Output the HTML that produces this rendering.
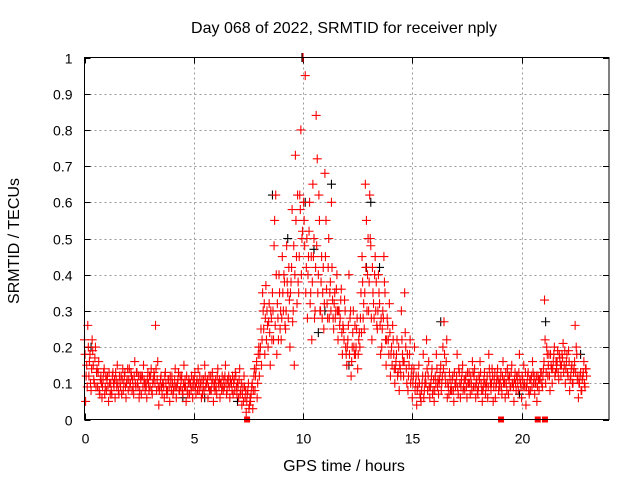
<!DOCTYPE html>
<html><head><meta charset="utf-8"><style>
html,body{margin:0;padding:0;background:#fff}
svg{display:block;font-family:"Liberation Sans",sans-serif}
</style></head><body>
<svg id="chart" width="640" height="480" viewBox="0 0 640 480">
<text x="344" y="33" font-size="16" text-anchor="middle" fill="#000">Day 068 of 2022, SRMTID for receiver nply</text>
<text x="344" y="471" font-size="16" text-anchor="middle" fill="#000">GPS time / hours</text>
<text x="19" y="241" font-size="16" text-anchor="middle" fill="#000" transform="rotate(-90 19 241)">SRMTID / TECUs</text>
<g id="grid"></g>
<g id="ticks"></g>
<g id="marks"></g>
<rect x="84.5" y="57.5" width="524.5" height="362" fill="none" stroke="#000" stroke-width="1"/>
</svg>
<script>
const xTicks=[0,5,10,15,20];
const yTicks=[0,0.1,0.2,0.3,0.4,0.5,0.6,0.7,0.8,0.9,1];
const yTickLabels=["0","0.1","0.2","0.3","0.4","0.5","0.6","0.7","0.8","0.9","1"];
const binTimes=[0.0,0.2,0.4,0.6,0.8,1.0,1.2,1.4,1.6,1.8,2.0,2.2,2.4,2.6,2.8,3.0,3.2,3.4,3.6,3.8,4.0,4.2,4.4,4.6,4.8,5.0,5.2,5.4,5.6,5.8,6.0,6.2,6.4,6.6,6.8,7.0,7.2,7.4,7.6,7.8,8.0,8.2,8.4,8.6,8.8,9.0,9.2,9.4,9.6,9.8,10.0,10.2,10.4,10.6,10.8,11.0,11.2,11.4,11.6,11.8,12.0,12.2,12.4,12.6,12.8,13.0,13.2,13.4,13.6,13.8,14.0,14.2,14.4,14.6,14.8,15.0,15.2,15.4,15.6,15.8,16.0,16.2,16.4,16.6,16.8,17.0,17.2,17.4,17.6,17.8,18.0,18.2,18.4,18.6,18.8,19.0,19.2,19.4,19.6,19.8,20.0,20.2,20.4,20.6,20.8,21.0,21.2,21.4,21.6,21.8,22.0,22.2,22.4,22.6,22.8];
const redValues=[
[.22,.05,.15,.26],[.12,.18,.08,.22],[.15,.10,.20,.13],[.09,.16,.07,.12],[.06,.11,.14,.09],
[.08,.12,.05,.10],[.10,.07,.13,.09],[.06,.11,.15,.08],[.12,.09,.07,.14],[.10,.13,.06,.11],
[.08,.14,.10,.12],[.11,.07,.16,.09],[.13,.09,.06,.12],[.07,.12,.15,.10],[.10,.06,.13,.08],
[.09,.14,.07,.11],[.12,.26,.08,.16],[.04,.09,.12,.07],[.10,.06,.13,.08],[.08,.11,.05,.10],
[.12,.07,.09,.14],[.06,.10,.13,.08],[.09,.12,.07,.15],[.11,.05,.08,.10],[.07,.10,.12,.06],
[.09,.13,.07,.11],[.14,.08,.10,.06],[.07,.11,.15,.09],[.10,.06,.12,.08],[.08,.13,.05,.10],
[.11,.07,.14,.09],[.06,.10,.12,.08],[.09,.15,.07,.11],[.12,.06,.10,.08],[.07,.11,.13,.09],
[.10,.06,.14,.08],[.04,.09,.12,.06],[.02,.07,.10,.04],[.05,.09,.03,.12],[.08,.14,.06,.18],
[.12,.20,.15,.35],[.25,.18,.37,.30],[.20,.32,.15,.28],[.35,.22,.55,.62],[.18,.28,.40,.25],
[.22,.45,.30,.38],[.25,.48,.35,.42],[.20,.38,.58,.30],[.15,.73,.45,.62],[.35,.62,.80,.50],
[1.0,.55,.95,.42],[.28,.45,.60,.35],[.22,.65,.50,.30],[.84,.72,.40,.55],[.30,.45,.35,.25],
[.68,.55,.32,.42],[.28,.38,.60,.33],[.25,.35,.30,.40],[.22,.30,.28,.36],[.18,.25,.33,.20],
[.15,.22,.40,.28],[.12,.20,.30,.18],[.18,.25,.14,.22],[.20,.35,.45,.28],[.25,.65,.55,.40],
[.30,.62,.48,.22],[.35,.28,.45,.38],[.25,.40,.32,.18],[.20,.30,.45,.35],[.15,.28,.22,.32],
[.12,.20,.26,.18],[.10,.16,.22,.13],[.08,.14,.30,.18],[.12,.35,.20,.10],[.08,.15,.22,.12],
[.06,.12,.20,.10],[.04,.09,.15,.07],[.05,.10,.18,.08],[.12,.22,.08,.16],[.06,.10,.14,.08],
[.05,.12,.18,.09],[.07,.11,.15,.10],[.20,.27,.12,.16],[.06,.09,.13,.08],[.08,.12,.05,.10],
[.10,.18,.07,.13],[.06,.11,.15,.09],[.08,.12,.06,.10],[.13,.07,.10,.16],[.09,.14,.06,.11],
[.07,.12,.16,.10],[.05,.09,.13,.07],[.10,.06,.18,.12],[.08,.14,.05,.11],[.06,.10,.14,.08],
[.09,.13,.07,.16],[.11,.06,.10,.14],[.07,.12,.09,.15],[.10,.05,.13,.08],[.12,.08,.18,.10],
[.06,.11,.15,.09],[.04,.10,.13,.07],[.08,.12,.16,.10],[.07,.10,.05,.12],[.08,.11,.13,.09],
[.14,.33,.10,.20],[.12,.18,.08,.15],[.10,.16,.20,.13],[.14,.19,.11,.17],[.12,.18,.21,.15],
[.10,.16,.13,.19],[.08,.12,.15,.10],[.14,.26,.20,.11],[.06,.10,.13,.08],[.12,.16,.09,.14]];
const redValues2=[
[.18,.12,.09,.20],[.16,.10,.14,.19],[.11,.17,.09,.14],[.13,.08,.11,.10],[.09,.13,.07,.12],
[.11,.09,.13,.07],[.08,.12,.10,.11],[.13,.09,.10,.07],[.10,.12,.11,.08],[.12,.09,.10,.14],
[.11,.09,.13,.08],[.09,.12,.10,.13],[.10,.12,.08,.11],[.12,.09,.11,.08],[.09,.11,.10,.12],
[.12,.08,.10,.13],[.10,.14,.11,.09],[.08,.11,.09,.10],[.09,.12,.10,.07],[.11,.09,.12,.08],
[.10,.08,.11,.09],[.09,.11,.08,.12],[.11,.08,.10,.09],[.09,.12,.07,.11],[.10,.08,.09,.11],
[.11,.09,.10,.08],[.10,.12,.09,.11],[.09,.08,.12,.10],[.11,.09,.08,.12],[.10,.11,.09,.08],
[.09,.12,.10,.11],[.10,.08,.09,.11],[.12,.10,.08,.10],[.09,.11,.10,.12],[.10,.08,.12,.07],
[.09,.11,.07,.10],[.07,.05,.09,.08],[.05,.08,.03,.06],[.07,.10,.08,.14],[.12,.16,.10,.20],
[.18,.25,.22,.30],[.32,.28,.22,.26],[.27,.24,.30,.22],[.30,.48,.26,.40],[.32,.22,.35,.30],
[.28,.35,.40,.26],[.30,.38,.28,.33],[.35,.42,.27,.48],[.40,.55,.32,.38],[.45,.58,.40,.52],
[.60,.48,.35,.50],[.40,.52,.32,.45],[.38,.45,.28,.42],[.48,.35,.62,.30],[.38,.28,.42,.32],
[.45,.36,.28,.50],[.35,.30,.42,.28],[.32,.28,.36,.30],[.30,.26,.33,.24],[.26,.22,.30,.18],
[.20,.26,.18,.30],[.16,.24,.20,.26],[.20,.28,.18,.24],[.28,.24,.38,.32],[.35,.42,.30,.50],
[.38,.50,.28,.42],[.32,.40,.30,.26],[.30,.35,.26,.28],[.25,.28,.38,.22],[.22,.26,.18,.24],
[.18,.15,.22,.14],[.14,.18,.12,.20],[.15,.12,.22,.16],[.16,.24,.14,.18],[.12,.18,.10,.14],
[.10,.14,.08,.12],[.08,.12,.10,.06],[.08,.12,.06,.10],[.10,.14,.12,.09],[.09,.12,.07,.11],
[.08,.10,.14,.11],[.10,.13,.08,.12],[.14,.18,.10,.22],[.10,.07,.11,.09],[.11,.08,.13,.09],
[.12,.09,.14,.10],[.09,.13,.08,.11],[.11,.09,.13,.10],[.10,.12,.08,.13],[.12,.09,.10,.08],
[.09,.11,.13,.08],[.08,.11,.10,.09],[.12,.09,.14,.10],[.10,.12,.09,.13],[.09,.12,.11,.10],
[.11,.09,.12,.10],[.10,.13,.08,.12],[.11,.09,.13,.10],[.09,.11,.10,.12],[.10,.13,.11,.09],
[.12,.09,.10,.13],[.09,.12,.08,.11],[.11,.09,.13,.12],[.10,.12,.09,.11],[.11,.13,.10,.12],
[.16,.22,.13,.18],[.15,.12,.18,.14],[.14,.18,.12,.16],[.16,.13,.18,.15],[.15,.17,.13,.19],
[.14,.18,.12,.16],[.11,.14,.10,.13],[.16,.13,.18,.12],[.10,.12,.08,.11],[.13,.10,.14,.12]];
const blackTimes=[9.95,10.1,8.6,11.3,12.1,7.0,5.5,21.1,13.1,10.5,9.3,12.9,11.0,13.5,0.3,4.5,16.3,19.9,22.7,10.7];
const blackValues=[1.0,0.6,0.62,0.65,0.15,0.05,0.06,0.27,0.6,0.47,0.5,0.42,0.3,0.42,0.2,0.06,0.27,0.07,0.18,0.24];
const gapTimes=[7.44,19.06,20.74,21.07];

const L=84.5,R=609,T=57.5,B=419.5,XMAX=24;
const NS="http://www.w3.org/2000/svg";
function xs(t){return L+(R-L)*t/XMAX;}
function ys(v){return B-(B-T)*v;}
function mk(tag,attrs,parent){const e=document.createElementNS(NS,tag);for(const k in attrs)e.setAttribute(k,attrs[k]);parent.appendChild(e);return e;}
const grid=document.getElementById('grid'),ticks=document.getElementById('ticks'),marks=document.getElementById('marks');
yTicks.forEach((v,i)=>{
  const y=Math.round(ys(v))+0.5;
  if(v>0&&v<1){const g=mk('line',{x1:L,x2:R,y1:y,y2:y,stroke:'#999','stroke-dasharray':'2,3'},grid);
  
  }
  mk('line',{x1:L,x2:L+6,y1:y,y2:y,stroke:'#000'},ticks);
  mk('line',{x1:R-6,x2:R,y1:y,y2:y,stroke:'#000'},ticks);
  const t=mk('text',{x:L-12,y:y+5,'font-size':'14','text-anchor':'end'},ticks);
  t.textContent=yTickLabels[i];
  
  
});
xTicks.forEach(v=>{
  const x=Math.round(xs(v))+0.5;
  if(v>0){const g=mk('line',{x1:x,x2:x,y1:T,y2:B,stroke:'#999','stroke-dasharray':'2,3'},grid);
  
  }
  mk('line',{x1:x,x2:x,y1:B,y2:B-6,stroke:'#000'},ticks);
  mk('line',{x1:x,x2:x,y1:T,y2:T+6,stroke:'#000'},ticks);
  const t=mk('text',{x:x,y:B+24,'font-size':'14','text-anchor':'middle'},ticks);
  t.textContent=String(v);
  
  
});
function plus(x,y,color,name){
  const p=mk('path',{d:`M${x-4.5},${y}H${x+4.5}M${x},${y-4.5}V${y+4.5}`,stroke:color,'stroke-width':'1.1',fill:'none'},marks);
  
  
}
blackTimes.forEach((t,i)=>plus(xs(t),ys(blackValues[i]),'#000','black-point'));
const offs=[0,0.05,0.1,0.15];
const offs2=[0.025,0.075,0.125,0.175];
binTimes.forEach((t,i)=>{
  redValues2[i].forEach((v,j)=>plus(xs(t+offs2[j]),ys(v),'#f00','red-point'));
  redValues[i].forEach((v,j)=>plus(xs(t+offs[j]),ys(v),'#f00','red-point'));
});
gapTimes.forEach(t=>{
  const r=mk('rect',{x:xs(t)-3,y:B-3,width:6,height:6,fill:'#f00'},marks);
  
  
});
</script>
</body></html>
